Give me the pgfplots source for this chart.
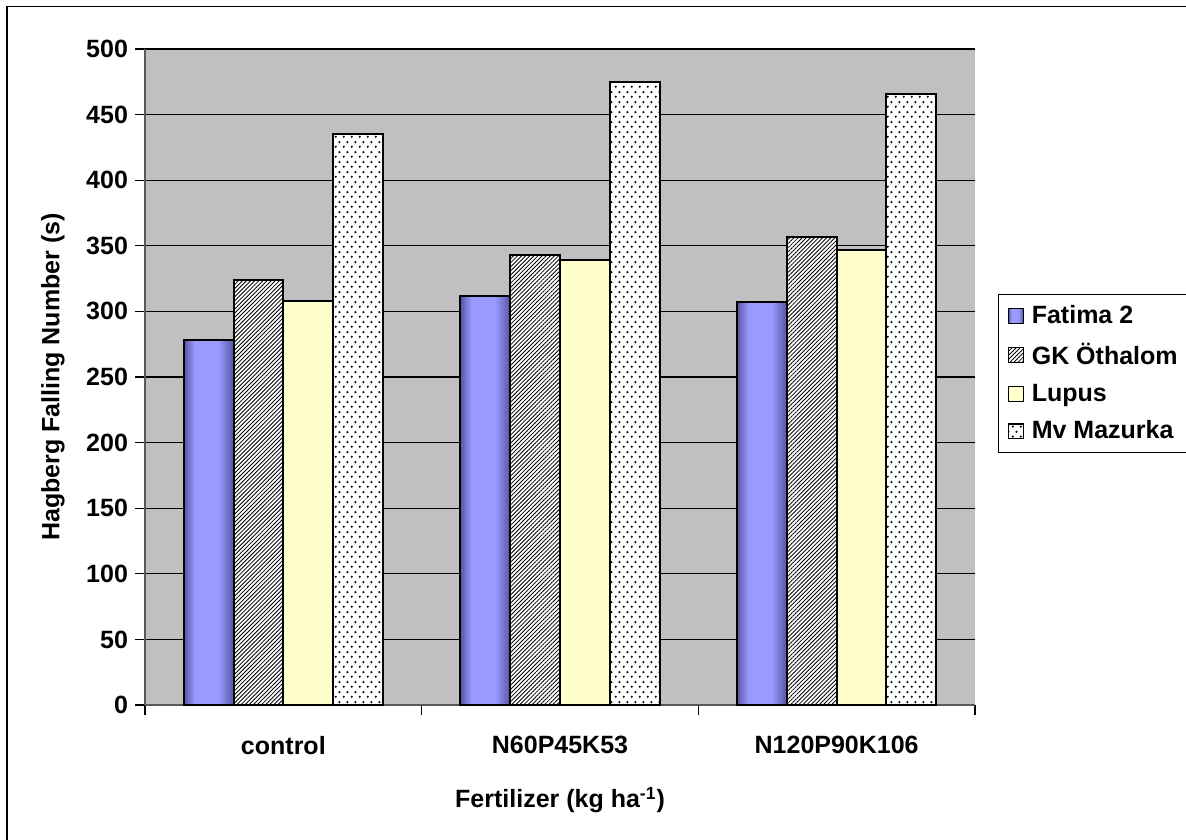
\documentclass[border=0pt]{standalone}
\usepackage{pgfplots}
\pgfplotsset{compat=1.18}
\usepackage{fontspec}
\setmainfont{Liberation Sans}
\usetikzlibrary{patterns,patterns.meta}
\definecolor{plotbg}{HTML}{C0C0C0}
\definecolor{fatima}{HTML}{9999FF}
\definecolor{fatimadark}{HTML}{5555A2}
\definecolor{lupus}{HTML}{FFFFCC}
\pgfdeclarehorizontalshading{fatimashade}{100bp}{color(0bp)=(fatimadark); color(25bp)=(fatimadark); color(36bp)=(fatima); color(60bp)=(fatima); color(75bp)=(fatimadark); color(100bp)=(fatimadark)}
\tikzdeclarepattern{
  name=mzdots,
  type=uncolored,
  bounding box={(0pt,0pt) and (3.8pt,5pt)},
  tile size={(3.8pt,5pt)},
  code={
    \fill (0.95pt,1.25pt) circle (0.62pt);
    \fill (2.85pt,3.75pt) circle (0.62pt);
  }
}
\newcommand{\chartfont}{\fontsize{12.5}{15}\selectfont\bfseries}
\begin{document}
\begin{tikzpicture}
\useasboundingbox (-72.5pt,-67pt) rectangle (520.5pt,352.5pt);
\draw[line width=0.7pt] (-69pt,-80pt) rectangle (540pt,349.2pt);
\begin{axis}[
  scale only axis, width=415pt, height=328pt,
  ybar, bar width=0.18,
  xmin=-0.5, xmax=2.5, ymin=0, ymax=500,
  xtick={-0.5,0.5,1.5,2.5}, xticklabels={},
  extra x ticks={0,1,2},
  extra x tick labels={control,N60P45K53,N120P90K106},
  extra x tick style={major tick length=0pt, xticklabel style={yshift=-12pt}},
  ytick={0,50,...,500},
  ymajorgrids, grid style={black, line width=0.6pt},
  axis x line*=bottom, axis y line*=left,
  axis line style={black!65, line width=0.8pt},
  x axis line style={-}, y axis line style={-},
  tick align=outside, major tick length=5pt,
  tick style={black, line width=0.6pt},
  axis background/.style={fill=plotbg},
  tick label style={font=\chartfont},
  /pgf/number format/assume math mode=true,
  xlabel={Fertilizer (kg ha\textsuperscript{-1})},
  ylabel={Hagberg Falling Number (s)},
  label style={font=\chartfont},
  xlabel style={at={(axis description cs:0.5,0)}, anchor=center, yshift=-47.5pt},
  ylabel style={at={([xshift=-46pt]axis description cs:0,0.5)}, anchor=center},
  legend style={at={(axis description cs:1.0277,0.627)}, anchor=north west,
    draw=black, line width=0.6pt, fill=white, font=\chartfont, row sep=4.3pt,
    inner xsep=4.5pt, inner ysep=3.5pt,
    /tikz/every odd column/.append style={column sep=2pt}},
  legend cell align=left,
  legend image code/.code={\draw[#1,line width=0.6pt] (0pt,-3.7pt) rectangle (7.5pt,3.7pt);},
]
\addplot[draw=black, line width=1pt, shading=fatimashade, bar shift=-0.27]
  coordinates {(0,278)};
\addplot[draw=black, line width=1pt, shading=fatimashade, bar shift=-0.27, forget plot]
  coordinates {(1,312)};
\addplot[draw=black, line width=1pt, shading=fatimashade, bar shift=-0.27, forget plot]
  coordinates {(2,307)};
\addplot[draw=black, line width=1pt, fill=white, bar shift=-0.09,
  postaction={pattern={Lines[angle=45,distance=1.45pt,line width=0.42pt]}, pattern color=black}]
  coordinates {(0,324) (1,343) (2,357)};
\addplot[draw=black, line width=1pt, fill=lupus, bar shift=0.09]
  coordinates {(0,308) (1,339) (2,347)};
\addplot[draw=black, line width=1pt, fill=white, bar shift=0.27,
  postaction={pattern=mzdots, pattern color=black}]
  coordinates {(0,435) (1,475) (2,466)};
\legend{Fatima 2, GK Öthalom, Lupus, Mv Mazurka}
\end{axis}
\end{tikzpicture}
\end{document}
